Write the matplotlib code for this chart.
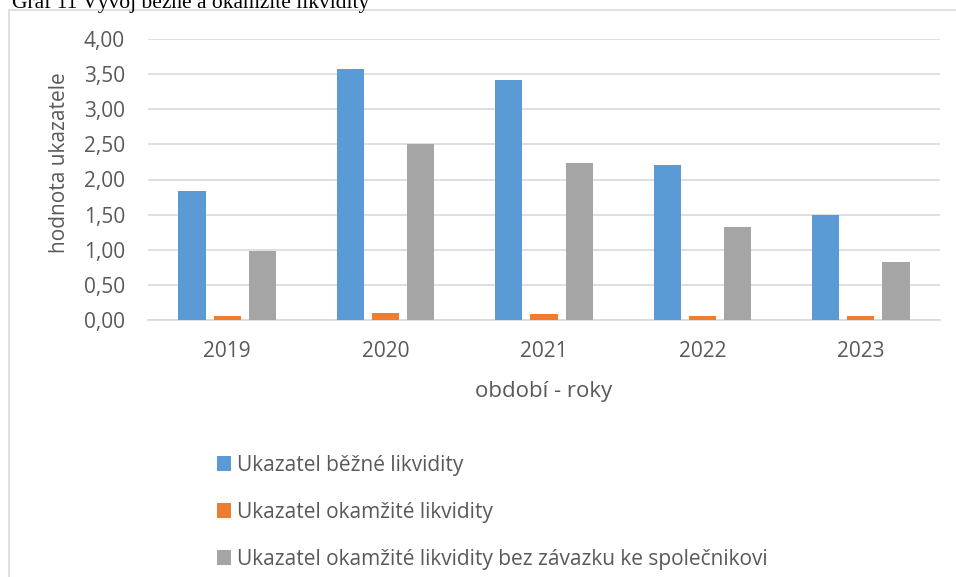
import numpy as np
import matplotlib.pyplot as plt
from matplotlib.patches import Rectangle

# Data
roky = ['2019', '2020', '2021', '2022', '2023']
bezna = [1.84, 3.57, 3.42, 2.21, 1.49]
okamzita = [0.05, 0.10, 0.08, 0.05, 0.05]
okamzita_bez = [0.98, 2.50, 2.23, 1.33, 0.82]
nazvy = ['Ukazatel běžné likvidity',
         'Ukazatel okamžité likvidity',
         'Ukazatel okamžité likvidity bez závazku ke společnikovi']
barvy = ['#5B9BD5', '#ED7D31', '#A5A5A5']

plt.rcParams['font.family'] = ['Open Sans', 'DejaVu Sans']
text_col = '#595959'
grid_col = '#D9D9D9'

fig = plt.figure(figsize=(9.56, 5.77), dpi=100)
ax = fig.add_axes([148 / 956, 1 - 320 / 577, (940 - 148) / 956, (320 - 39) / 577])

x = np.arange(len(roky))
w = 0.172
krok = 0.222
for i, (serie, nazev) in enumerate(zip([bezna, okamzita, okamzita_bez], nazvy)):
    ax.bar(x + (i - 1) * krok, serie, width=w, color=barvy[i], label=nazev, zorder=3)

ax.set_xlim(-0.5, len(roky) - 0.5)
ax.set_ylim(0, 4.0)
ax.set_yticks(np.arange(0, 4.01, 0.5))
ax.set_yticklabels([f'{v:.2f}'.replace('.', ',') for v in np.arange(0, 4.01, 0.5)])
ax.set_xticks(x)
ax.set_xticklabels(roky)
ax.tick_params(length=0, labelsize=15, colors=text_col)
ax.tick_params(axis='y', pad=16.5)
ax.tick_params(axis='x', pad=15)
ax.grid(axis='y', color=grid_col, linewidth=1.2, zorder=0)
for s in ['top', 'right', 'left']:
    ax.spines[s].set_visible(False)
ax.spines['bottom'].set_color(grid_col)
ax.spines['bottom'].set_linewidth(1.2)

ax.set_ylabel('hodnota ukazatele', fontsize=15, color=text_col, va='center')
ax.yaxis.set_label_coords((60 - 148) / 792, (320 - 163) / 281)
ax.set_xlabel('období - roky', fontsize=16, color=text_col, va='center')
ax.xaxis.set_label_coords(0.5, (320 - 391) / 281)

fig.legend(loc='upper left', bbox_to_anchor=(198 / 956, 1 - 436 / 577),
           frameon=False, fontsize=15, handlelength=0.68, handleheight=0.68,
           handletextpad=0.3, labelspacing=1.25, labelcolor=text_col)

# rámeček grafu
fig.patches.append(Rectangle((9 / 956, -0.1), 2, 1.1 - 10 / 577,
                             transform=fig.transFigure, fill=False,
                             edgecolor=grid_col, linewidth=1.2))

fig.text(12 / 956, 1 - 8 / 577, 'Graf 11 Vývoj běžné a okamžité likvidity',
         family='Liberation Serif', fontsize=15.5, color='black', va='baseline')

fig.savefig('out.png', dpi=100)
